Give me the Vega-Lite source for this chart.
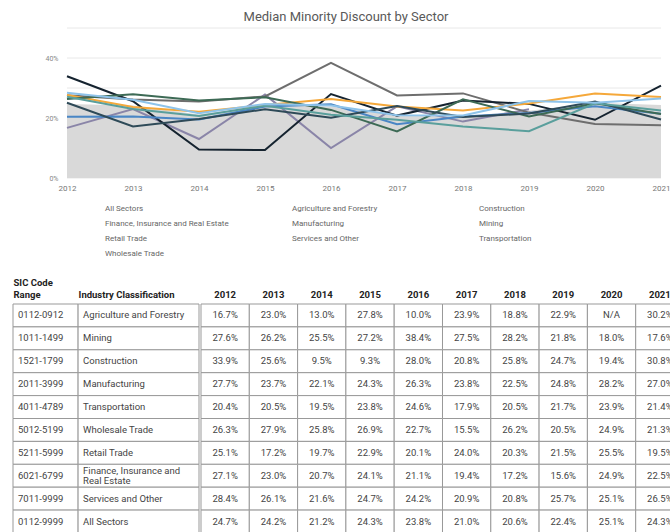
{
  "$schema": "https://vega.github.io/schema/vega-lite/v6.json",
  "padding": {"left": 12, "top": 10, "right": 0, "bottom": 0},
  "config": {"font": "Roboto", "view": {"stroke": null}},
  "resolve": {"scale": {"color": "independent", "x": "independent", "y": "independent"}, "legend": {"color": "independent"}},
  "datasets": {
    "sectors": [
      {"code": "0112-0912", "sector": "Agriculture and Forestry"},
      {"code": "1011-1499", "sector": "Mining"},
      {"code": "1521-1799", "sector": "Construction"},
      {"code": "2011-3999", "sector": "Manufacturing"},
      {"code": "4011-4789", "sector": "Transportation"},
      {"code": "5012-5199", "sector": "Wholesale Trade"},
      {"code": "5211-5999", "sector": "Retail Trade"},
      {"code": "6021-6799", "sector": "Finance, Insurance and Real Estate"},
      {"code": "7011-9999", "sector": "Services and Other"},
      {"code": "0112-9999", "sector": "All Sectors"}
    ],
    "grid": [{"g": 0}, {"g": 0.1}, {"g": 0.2}, {"g": 0.3}, {"g": 0.4}, {"g": 0.5}],
    "long": [
      {"sector": "Agriculture and Forestry", "year": 2012, "value": 0.167},
      {"sector": "Agriculture and Forestry", "year": 2013, "value": 0.230},
      {"sector": "Agriculture and Forestry", "year": 2014, "value": 0.130},
      {"sector": "Agriculture and Forestry", "year": 2015, "value": 0.278},
      {"sector": "Agriculture and Forestry", "year": 2016, "value": 0.100},
      {"sector": "Agriculture and Forestry", "year": 2017, "value": 0.239},
      {"sector": "Agriculture and Forestry", "year": 2018, "value": 0.188},
      {"sector": "Agriculture and Forestry", "year": 2019, "value": 0.229},
      {"sector": "Agriculture and Forestry", "year": 2020, "value": null},
      {"sector": "Agriculture and Forestry", "year": 2021, "value": 0.302},
      {"sector": "Mining", "year": 2012, "value": 0.276},
      {"sector": "Mining", "year": 2013, "value": 0.262},
      {"sector": "Mining", "year": 2014, "value": 0.255},
      {"sector": "Mining", "year": 2015, "value": 0.272},
      {"sector": "Mining", "year": 2016, "value": 0.384},
      {"sector": "Mining", "year": 2017, "value": 0.275},
      {"sector": "Mining", "year": 2018, "value": 0.282},
      {"sector": "Mining", "year": 2019, "value": 0.218},
      {"sector": "Mining", "year": 2020, "value": 0.180},
      {"sector": "Mining", "year": 2021, "value": 0.176},
      {"sector": "Construction", "year": 2012, "value": 0.339},
      {"sector": "Construction", "year": 2013, "value": 0.256},
      {"sector": "Construction", "year": 2014, "value": 0.095},
      {"sector": "Construction", "year": 2015, "value": 0.093},
      {"sector": "Construction", "year": 2016, "value": 0.280},
      {"sector": "Construction", "year": 2017, "value": 0.208},
      {"sector": "Construction", "year": 2018, "value": 0.258},
      {"sector": "Construction", "year": 2019, "value": 0.247},
      {"sector": "Construction", "year": 2020, "value": 0.194},
      {"sector": "Construction", "year": 2021, "value": 0.308},
      {"sector": "Manufacturing", "year": 2012, "value": 0.277},
      {"sector": "Manufacturing", "year": 2013, "value": 0.237},
      {"sector": "Manufacturing", "year": 2014, "value": 0.221},
      {"sector": "Manufacturing", "year": 2015, "value": 0.243},
      {"sector": "Manufacturing", "year": 2016, "value": 0.263},
      {"sector": "Manufacturing", "year": 2017, "value": 0.238},
      {"sector": "Manufacturing", "year": 2018, "value": 0.225},
      {"sector": "Manufacturing", "year": 2019, "value": 0.248},
      {"sector": "Manufacturing", "year": 2020, "value": 0.282},
      {"sector": "Manufacturing", "year": 2021, "value": 0.270},
      {"sector": "Transportation", "year": 2012, "value": 0.204},
      {"sector": "Transportation", "year": 2013, "value": 0.205},
      {"sector": "Transportation", "year": 2014, "value": 0.195},
      {"sector": "Transportation", "year": 2015, "value": 0.238},
      {"sector": "Transportation", "year": 2016, "value": 0.246},
      {"sector": "Transportation", "year": 2017, "value": 0.179},
      {"sector": "Transportation", "year": 2018, "value": 0.205},
      {"sector": "Transportation", "year": 2019, "value": 0.217},
      {"sector": "Transportation", "year": 2020, "value": 0.239},
      {"sector": "Transportation", "year": 2021, "value": 0.214},
      {"sector": "Wholesale Trade", "year": 2012, "value": 0.263},
      {"sector": "Wholesale Trade", "year": 2013, "value": 0.279},
      {"sector": "Wholesale Trade", "year": 2014, "value": 0.258},
      {"sector": "Wholesale Trade", "year": 2015, "value": 0.269},
      {"sector": "Wholesale Trade", "year": 2016, "value": 0.227},
      {"sector": "Wholesale Trade", "year": 2017, "value": 0.155},
      {"sector": "Wholesale Trade", "year": 2018, "value": 0.262},
      {"sector": "Wholesale Trade", "year": 2019, "value": 0.205},
      {"sector": "Wholesale Trade", "year": 2020, "value": 0.249},
      {"sector": "Wholesale Trade", "year": 2021, "value": 0.213},
      {"sector": "Retail Trade", "year": 2012, "value": 0.251},
      {"sector": "Retail Trade", "year": 2013, "value": 0.172},
      {"sector": "Retail Trade", "year": 2014, "value": 0.197},
      {"sector": "Retail Trade", "year": 2015, "value": 0.229},
      {"sector": "Retail Trade", "year": 2016, "value": 0.201},
      {"sector": "Retail Trade", "year": 2017, "value": 0.240},
      {"sector": "Retail Trade", "year": 2018, "value": 0.203},
      {"sector": "Retail Trade", "year": 2019, "value": 0.215},
      {"sector": "Retail Trade", "year": 2020, "value": 0.255},
      {"sector": "Retail Trade", "year": 2021, "value": 0.195},
      {"sector": "Finance, Insurance and Real Estate", "year": 2012, "value": 0.271},
      {"sector": "Finance, Insurance and Real Estate", "year": 2013, "value": 0.230},
      {"sector": "Finance, Insurance and Real Estate", "year": 2014, "value": 0.207},
      {"sector": "Finance, Insurance and Real Estate", "year": 2015, "value": 0.241},
      {"sector": "Finance, Insurance and Real Estate", "year": 2016, "value": 0.211},
      {"sector": "Finance, Insurance and Real Estate", "year": 2017, "value": 0.194},
      {"sector": "Finance, Insurance and Real Estate", "year": 2018, "value": 0.172},
      {"sector": "Finance, Insurance and Real Estate", "year": 2019, "value": 0.156},
      {"sector": "Finance, Insurance and Real Estate", "year": 2020, "value": 0.249},
      {"sector": "Finance, Insurance and Real Estate", "year": 2021, "value": 0.225},
      {"sector": "Services and Other", "year": 2012, "value": 0.284},
      {"sector": "Services and Other", "year": 2013, "value": 0.261},
      {"sector": "Services and Other", "year": 2014, "value": 0.216},
      {"sector": "Services and Other", "year": 2015, "value": 0.247},
      {"sector": "Services and Other", "year": 2016, "value": 0.242},
      {"sector": "Services and Other", "year": 2017, "value": 0.209},
      {"sector": "Services and Other", "year": 2018, "value": 0.208},
      {"sector": "Services and Other", "year": 2019, "value": 0.257},
      {"sector": "Services and Other", "year": 2020, "value": 0.251},
      {"sector": "Services and Other", "year": 2021, "value": 0.265},
      {"sector": "All Sectors", "year": 2012, "value": 0.247},
      {"sector": "All Sectors", "year": 2013, "value": 0.242},
      {"sector": "All Sectors", "year": 2014, "value": 0.212},
      {"sector": "All Sectors", "year": 2015, "value": 0.243},
      {"sector": "All Sectors", "year": 2016, "value": 0.238},
      {"sector": "All Sectors", "year": 2017, "value": 0.210},
      {"sector": "All Sectors", "year": 2018, "value": 0.206},
      {"sector": "All Sectors", "year": 2019, "value": 0.224},
      {"sector": "All Sectors", "year": 2020, "value": 0.251},
      {"sector": "All Sectors", "year": 2021, "value": 0.243}
    ]
  },
  "columns": 1,
  "align": "none",
  "spacing": 17,
  "concat": [
    {
      "width": 648,
      "height": 150,
      "title": {"text": "Median Minority Discount by Sector", "fontSize": 13, "fontWeight": "normal", "color": "#595959", "anchor": "middle", "frame": "group", "dx": 9, "offset": 4},
      "layer": [
        {
          "data": {"name": "grid"},
          "mark": {"type": "rule", "color": "#e8e8e8", "strokeWidth": 1},
          "encoding": {
            "y": {"field": "g", "type": "quantitative"},
            "x": {"datum": 2012, "type": "quantitative"},
            "x2": {"datum": 2021}
          }
        },
        {
          "data": {"name": "long"},
          "transform": [{"filter": "datum.sector === 'All Sectors'"}],
          "mark": {"type": "area", "opacity": 1},
          "encoding": {
            "x": {"field": "year", "type": "quantitative", "scale": {"domain": [2011.182, 2021], "nice": false, "zero": false},
                  "axis": {"title": null, "values": [2012, 2013, 2014, 2015, 2016, 2017, 2018, 2019, 2020, 2021], "format": "d", "labelFlush": false, "labelAngle": 0, "labelFontSize": 8, "labelColor": "#777", "ticks": false, "domain": false, "labelPadding": 6, "grid": false}},
            "y": {"field": "value", "type": "quantitative", "scale": {"domain": [0, 0.5]},
                  "axis": {"title": null, "offset": -54, "values": [0, 0.1, 0.2, 0.3, 0.4, 0.5], "format": ".0%", "labelFontSize": 7, "labelColor": "#888", "ticks": false, "domain": false, "grid": false, "labelPadding": 9}},
            "color": {"field": "sector", "type": "nominal",
              "scale": {
                "domain": ["All Sectors", "Agriculture and Forestry", "Construction", "Finance, Insurance and Real Estate", "Manufacturing", "Mining", "Retail Trade", "Services and Other", "Transportation", "Wholesale Trade"],
                "range": ["#d9d9d9", "#8a85a8", "#15232f", "#5a9f9c", "#f5a83a", "#6e6e6e", "#2e4a58", "#8ec3ea", "#4a86c5", "#3d6a55"]
              },
              "legend": {"title": null, "orient": "none", "legendX": 77, "legendY": 174.5, "columns": 3, "direction": "horizontal", "gridAlign": "all", "columnPadding": 48, "rowPadding": 3, "clipHeight": 12, "symbolType": "stroke", "symbolSize": 144, "symbolStrokeWidth": 0, "labelFontSize": 8, "labelColor": "#666", "labelOffset": 3,
                "encode": {"symbols": {"update": {"stroke": {"scale": "color", "field": "value"}, "strokeWidth": {"signal": "datum.value === 'All Sectors' ? 6 : 2.5"}}}}}
            }
          }
        },
        {
          "data": {"name": "long"},
          "transform": [{"filter": "datum.sector !== 'All Sectors'"}],
          "mark": {"type": "line", "strokeWidth": 2, "invalid": "break-paths-show-domains"},
          "encoding": {
            "x": {"field": "year", "type": "quantitative"},
            "y": {"field": "value", "type": "quantitative"},
            "color": {"field": "sector", "type": "nominal"}
          }
        }
      ]
    },
    {
      "spacing": 0,
      "resolve": {"scale": {"x": "independent"}},
      "hconcat": [
        {
          "data": {"name": "sectors"},
          "width": 186,
          "height": 229,
          "encoding": {
            "x": {"datum": 0, "type": "quantitative", "scale": {"domain": [0, 1], "nice": false, "zero": false},
                  "axis": {"orient": "top", "title": "SIC Code", "titleAnchor": "start", "titleAlign": "left", "titleFontSize": 9.5, "titleFontWeight": "bold", "titleColor": "#222", "titlePadding": 2, "values": [0, 0.35], "labelExpr": "datum.value === 0 ? 'Range' : 'Industry Classification'", "labelAlign": "left", "labelFlush": false, "labelBound": false, "labelOverlap": false, "labelPadding": 5, "labelFontSize": 9.5, "labelFontWeight": "bold", "labelColor": "#222", "ticks": false, "domain": false, "grid": false}},
            "y": {"field": "sector", "type": "nominal", "scale": {"domain": ["Agriculture and Forestry", "Mining", "Construction", "Manufacturing", "Transportation", "Wholesale Trade", "Retail Trade", "Finance, Insurance and Real Estate", "Services and Other", "All Sectors"], "paddingInner": 0, "paddingOuter": 0}, "axis": null}
          },
          "layer": [
            {"mark": {"type": "rect", "fill": "white", "stroke": "#999", "strokeWidth": 1}, "encoding": {"x": {"datum": 0}, "x2": {"datum": 0.35}}},
            {"mark": {"type": "rect", "fill": "white", "stroke": "#999", "strokeWidth": 1}, "encoding": {"x": {"datum": 0.35}, "x2": {"datum": 1}}},
            {"mark": {"type": "text", "align": "left", "dx": 5, "fontSize": 9.5, "color": "#444"}, "encoding": {"x": {"datum": 0}, "text": {"field": "code"}}},
            {"transform": [{"filter": "datum.sector !== 'Finance, Insurance and Real Estate'"}], "mark": {"type": "text", "align": "left", "dx": 5, "fontSize": 9.5, "color": "#444"}, "encoding": {"x": {"datum": 0.35}, "text": {"field": "sector"}}},
            {"transform": [{"filter": "datum.sector === 'Finance, Insurance and Real Estate'"}], "mark": {"type": "text", "align": "left", "dx": 5, "dy": -5, "fontSize": 9.5, "color": "#444", "lineHeight": 10}, "encoding": {"x": {"datum": 0.35}, "text": {"value": ["Finance, Insurance and", "Real Estate"]}}}
          ]
        },
        {
          "data": {"name": "long"},
          "width": 483,
          "height": 229,
          "encoding": {
            "x": {"field": "year", "type": "ordinal", "scale": {"paddingInner": 0, "paddingOuter": 0},
                  "axis": {"orient": "top", "title": null, "labelAngle": 0, "labelFontSize": 9.5, "labelFontWeight": "bold", "labelColor": "#222", "ticks": false, "domain": false, "labelPadding": 5}},
            "y": {"field": "sector", "type": "nominal", "scale": {"domain": ["Agriculture and Forestry", "Mining", "Construction", "Manufacturing", "Transportation", "Wholesale Trade", "Retail Trade", "Finance, Insurance and Real Estate", "Services and Other", "All Sectors"], "paddingInner": 0, "paddingOuter": 0}, "axis": null}
          },
          "layer": [
            {"mark": {"type": "rect", "fill": "white", "stroke": "#999", "strokeWidth": 1}},
            {"mark": {"type": "text", "fontSize": 9.5, "color": "#444"}, "encoding": {"text": {"condition": {"test": "datum.value === null", "value": "N/A"}, "field": "value", "type": "quantitative", "format": ".1%"}}}
          ]
        }
      ]
    }
  ]
}
